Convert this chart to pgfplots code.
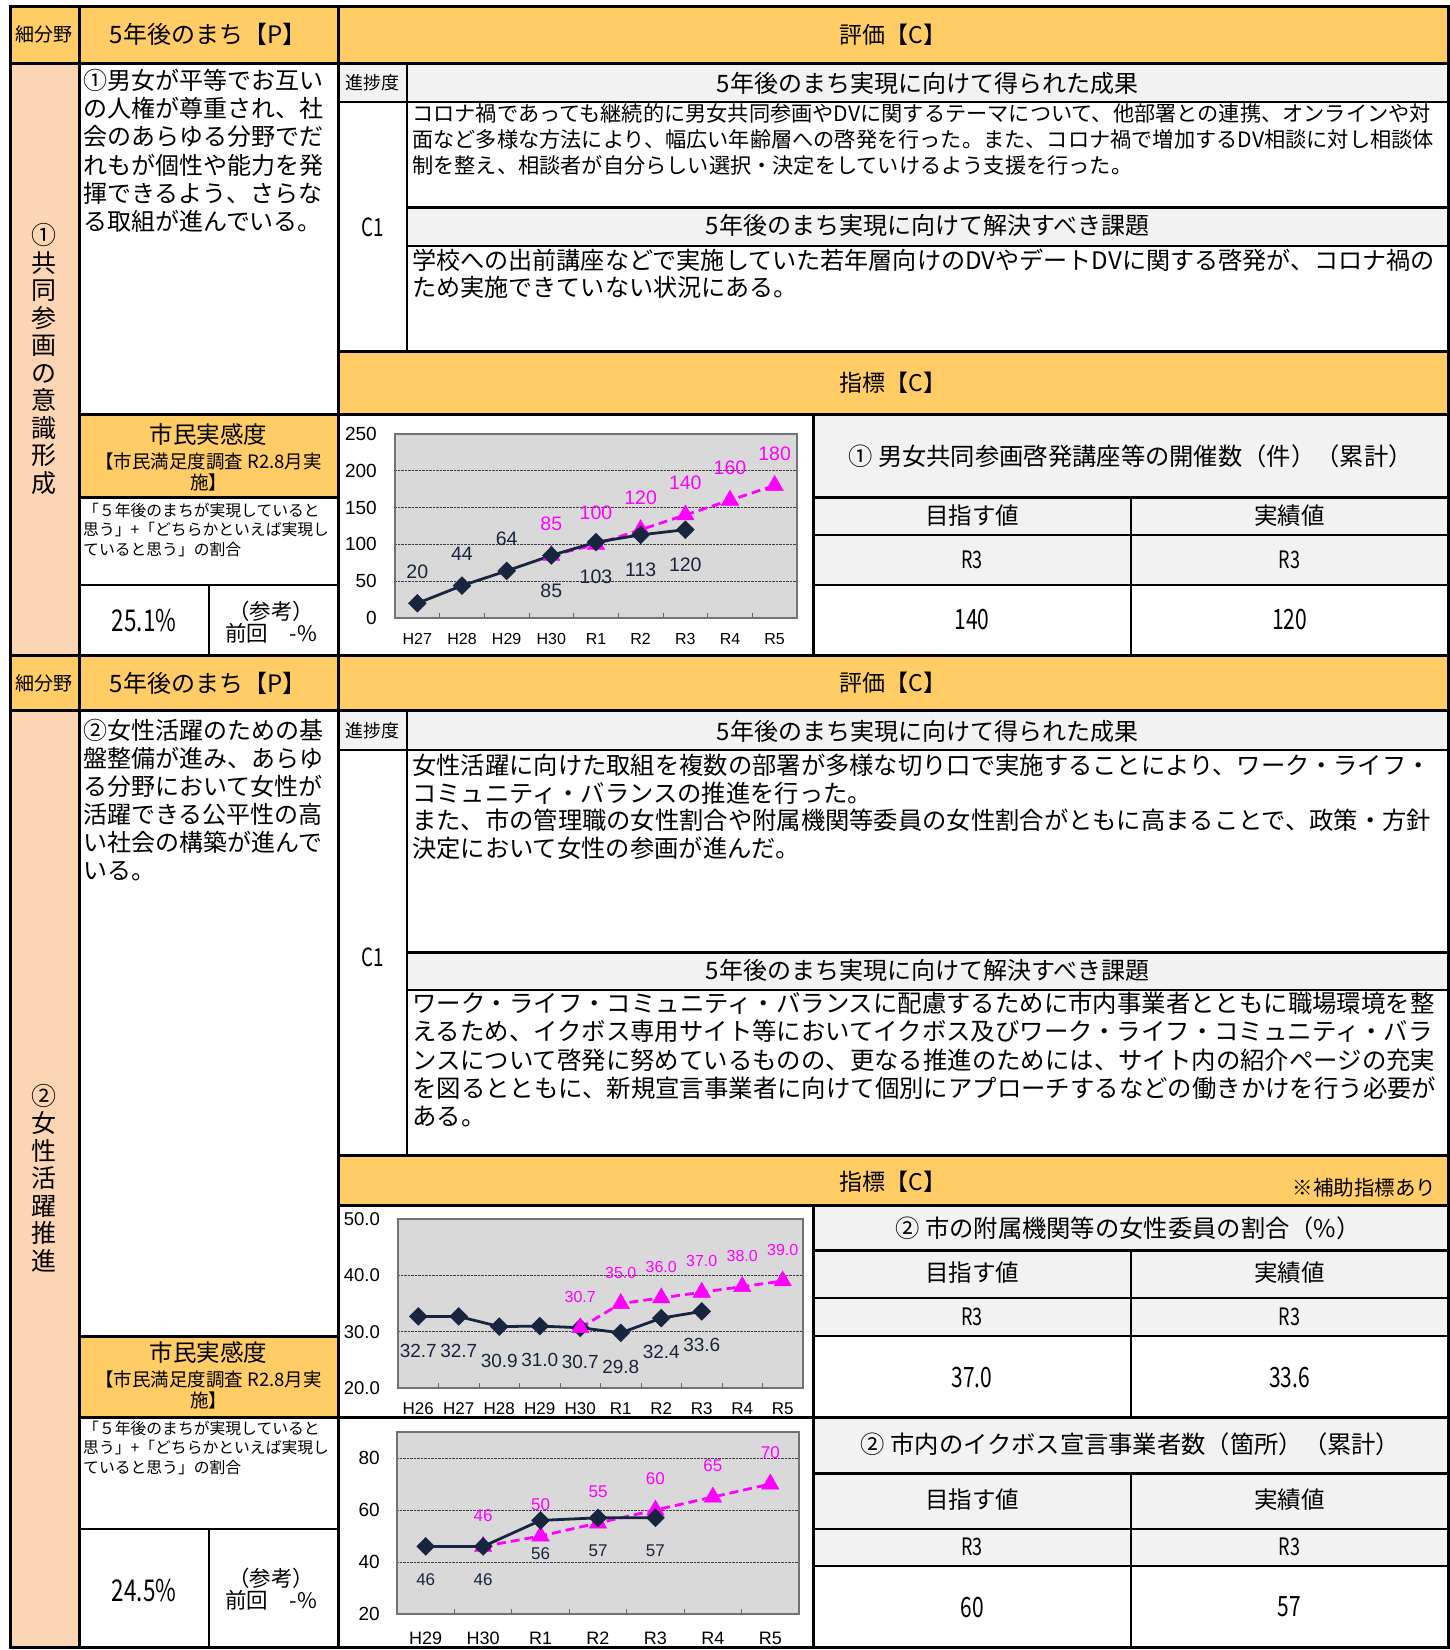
\documentclass[border=0pt]{standalone}
\usepackage{pgfplots}
\pgfplotsset{compat=1.18}
\usepackage{fontspec}
\setmainfont{Noto Sans CJK JP}
\newfontfamily\nar[FakeStretch=0.75]{Noto Sans CJK JP}
\newfontfamily\arial{Liberation Sans}

\definecolor{hdr}{RGB}{255,204,102}
\definecolor{peach}{RGB}{252,213,180}
\definecolor{cell}{RGB}{242,242,242}
\definecolor{plotbg}{RGB}{217,217,217}
\definecolor{navy}{RGB}{23,37,62}
\definecolor{pink}{RGB}{255,0,255}
\newcommand{\fs}[2]{\fontsize{#1}{#2}\selectfont}

\pgfplotsset{
  minichart/.style={
    anchor=south west, scale only axis, clip=false,
    axis background/.style={fill=plotbg},
    axis line style={draw=black!55, line width=1.8pt},
    ymajorgrids, grid style={black!75, densely dotted, line width=0.7pt},
    tick pos=left, major tick length=0pt, tick align=inside,
    extra x tick style={major tick length=5pt, tick style={black!60, line width=0.8pt}},
    extra x tick labels={},
    /pgf/number format/assume math mode=true,
    yticklabel style={anchor=east, inner sep=0pt, xshift=-18pt},
    xticklabel style={anchor=center, inner sep=0pt},
  },
  actual/.style={navy, line width=2.8pt, mark=square*, mark size=6.3pt,
    mark options={rotate=45, solid, line width=0.5pt}},
  target/.style={pink, line width=2.8pt, dash pattern=on 9pt off 5pt,
    mark=triangle*, mark size=10pt, mark options={solid, line width=0.5pt}},
}

\begin{document}
\begin{tikzpicture}[x=1pt,y=-1pt]
\useasboundingbox (0,0) rectangle (1450,1650);
\fill[white] (0,0) rectangle (1450,1650);

% cell fills, section 1
\fill[hdr] (10,6) rectangle (1448,63.5);
\fill[peach] (10,63.5) rectangle (79,655);
\fill[cell] (338.5,63.5) rectangle (1448,102);
\fill[cell] (407,207) rectangle (1448,246);
\fill[hdr] (338.5,351.5) rectangle (1448,415);
\fill[hdr] (79,414) rectangle (338.5,497);
\fill[cell] (813,415) rectangle (1448,585);
% section 2
\fill[hdr] (10,655) rectangle (1448,710);
\fill[peach] (10,710) rectangle (79,1647);
\fill[cell] (338.5,710) rectangle (1448,750);
\fill[cell] (407,952) rectangle (1448,990);
\fill[hdr] (338.5,1155.5) rectangle (1448,1205);
\fill[hdr] (79,1336) rectangle (338.5,1417);
\fill[cell] (813,1205) rectangle (1448,1336);
\fill[cell] (813,1417) rectangle (1448,1566);

% thin rules
\begin{scope}[line width=1.2pt]
\draw (338.5,102) -- (1448,102) (407,246) -- (1448,246);
\draw (813,535) -- (1448,535) (813,585) -- (1448,585);
\draw (79,585) -- (338.5,585) (209,585) -- (209,655);
\draw (338.5,750) -- (1448,750) (407,990) -- (1448,990);
\draw (813,1298) -- (1448,1298) (813,1336) -- (1448,1336);
\draw (813,1529) -- (1448,1529) (813,1566) -- (1448,1566);
\draw (79,1529) -- (338.5,1529) (209,1529) -- (209,1647);
\end{scope}
\begin{scope}[line width=2.4pt]
\draw (407,63.5) -- (407,351.5) (407,710) -- (407,1155.5);
\draw (1131,497) -- (1131,655) (1131,1250) -- (1131,1417) (1131,1473) -- (1131,1647);
\end{scope}
% thick rules
\begin{scope}[line width=3pt]
\draw (10,6) rectangle (1448,1647);
\draw (79,6) -- (79,1647) (338.5,6) -- (338.5,1647);
\draw (10,63.5) -- (1448,63.5) (10,655) -- (1448,655) (10,710) -- (1448,710);
\draw (407,207) -- (1448,207) (338.5,351.5) -- (1448,351.5) (79,414.5) -- (1448,414.5);
\draw (813,414.5) -- (813,655) (813,497) -- (1448,497) (79,497) -- (338.5,497);
\draw (407,952) -- (1448,952) (338.5,1155.5) -- (1448,1155.5) (338.5,1205) -- (1448,1205);
\draw (813,1205) -- (813,1647) (813,1250) -- (1448,1250);
\draw (79,1336) -- (338.5,1336) (79,1417) -- (1448,1417) (813,1473) -- (1448,1473);
\end{scope}

% ---- texts, section 1
\node[font=\fs{19}{19}] at (44,34.5) {細分野};
\node[font=\fs{24}{24}] at (208,34.5) {5年後のまち【P】};
\node[font=\fs{23}{23}] at (893,34.5) {評価【C】};
\node[align=center, font=\fs{25}{27.5}] at (44,359) {①\\共\\同\\参\\画\\の\\意\\識\\形\\成};
\node[anchor=north west, inner sep=0pt, align=left, font=\fs{24}{28.3}] at (83,68.7)
  {①男女が平等でお互い\\の人権が尊重され、社\\会のあらゆる分野でだ\\れもが個性や能力を発\\揮できるよう、さらな\\る取組が進んでいる。};
\node[font=\fs{23.5}{23.5}] at (208.5,435) {市民実感度};
\node[align=center, font=\fs{18.5}{20.5}] at (208.5,472) {【市民満足度調査 R2.8月実\\施】};
\node[anchor=north west, inner sep=0pt, align=left, font=\fs{15.8}{19.5}] at (83,502.6)
  {「５年後のまちが実現していると\\思う」+「どちらかといえば実現し\\ていると思う」の割合};
\node[font=\nar\fs{30}{30}] at (144,620) {25.1\%};
\node[align=center, font=\fs{21.5}{22.5}] at (271,622) {（参考）\\前回　-\%};

\node[font=\fs{18}{18}] at (372.5,83) {進捗度};
\node[font=\fs{24}{24}] at (927.5,83) {5年後のまち実現に向けて得られた成果};
\node[anchor=north west, inner sep=0pt, align=left, font=\fs{21.2}{26}] at (412,103)
  {コロナ禍であっても継続的に男女共同参画やDVに関するテーマについて、他部署との連携、オンラインや対\\面など多様な方法により、幅広い年齢層への啓発を行った。また、コロナ禍で増加するDV相談に対し相談体\\制を整え、相談者が自分らしい選択・決定をしていけるよう支援を行った。};
\node[font=\nar\fs{25}{25}] at (372.5,227) {C1};
\node[font=\fs{24}{24}] at (927.5,225) {5年後のまち実現に向けて解決すべき課題};
\node[anchor=north west, inner sep=0pt, align=left, font=\fs{24.1}{27}] at (412,248.7)
  {学校への出前講座などで実施していた若年層向けのDVやデートDVに関する啓発が、コロナ禍の\\ため実施できていない状況にある。};
\node[font=\fs{23}{23}] at (893,383) {指標【C】};
\node[font=\fs{24.3}{24.3}] at (1130.5,456) {① 男女共同参画啓発講座等の開催数（件）（累計）};
\node[font=\fs{23.5}{23.5}] at (972,516) {目指す値};
\node[font=\fs{23.5}{23.5}] at (1289.5,516) {実績値};
\node[font=\nar\fs{24}{24}] at (972,560) {R3};
\node[font=\nar\fs{24}{24}] at (1289.5,560) {R3};
\node[font=\nar\fs{28}{28}] at (972,620) {140};
\node[font=\nar\fs{28}{28}] at (1289.5,620) {120};

% ---- texts, section 2
\node[font=\fs{19}{19}] at (44,683) {細分野};
\node[font=\fs{24}{24}] at (208,683) {5年後のまち【P】};
\node[font=\fs{23}{23}] at (893,683) {評価【C】};
\node[align=center, font=\fs{25}{27.5}] at (44,1178) {②\\女\\性\\活\\躍\\推\\進};
\node[anchor=north west, inner sep=0pt, align=left, font=\fs{24}{28}] at (83,718.7)
  {②女性活躍のための基\\盤整備が進み、あらゆ\\る分野において女性が\\活躍できる公平性の高\\い社会の構築が進んで\\いる。};
\node[font=\fs{23.5}{23.5}] at (208.5,1353) {市民実感度};
\node[align=center, font=\fs{18.5}{20.5}] at (208.5,1390) {【市民満足度調査 R2.8月実\\施】};
\node[anchor=north west, inner sep=0pt, align=left, font=\fs{15.8}{19.5}] at (83,1420.6)
  {「５年後のまちが実現していると\\思う」+「どちらかといえば実現し\\ていると思う」の割合};
\node[font=\nar\fs{30}{30}] at (144,1590) {24.5\%};
\node[align=center, font=\fs{21.5}{22.5}] at (271,1589) {（参考）\\前回　-\%};

\node[font=\fs{18}{18}] at (372.5,731) {進捗度};
\node[font=\fs{24}{24}] at (927.5,731) {5年後のまち実現に向けて得られた成果};
\node[anchor=north west, inner sep=0pt, align=left, font=\fs{24.3}{27.7}] at (412,753.6)
  {女性活躍に向けた取組を複数の部署が多様な切り口で実施することにより、ワーク・ライフ・\\コミュニティ・バランスの推進を行った。\\また、市の管理職の女性割合や附属機関等委員の女性割合がともに高まることで、政策・方針\\決定において女性の参画が進んだ。};
\node[font=\nar\fs{25}{25}] at (372.5,957) {C1};
\node[font=\fs{24}{24}] at (927.5,970) {5年後のまち実現に向けて解決すべき課題};
\node[anchor=north west, inner sep=0pt, align=left, font=\fs{24.4}{28.3}] at (412,991.6)
  {ワーク・ライフ・コミュニティ・バランスに配慮するために市内事業者とともに職場環境を整\\えるため、イクボス専用サイト等においてイクボス及びワーク・ライフ・コミュニティ・バラ\\ンスについて啓発に努めているものの、更なる推進のためには、サイト内の紹介ページの充実\\を図るとともに、新規宣言事業者に向けて個別にアプローチするなどの働きかけを行う必要が\\ある。};
\node[font=\fs{23}{23}] at (893,1182) {指標【C】};
\node[anchor=east, font=\fs{20.5}{20.5}] at (1440,1188) {※補助指標あり};
\node[font=\fs{24.3}{24.3}] at (1128,1228) {② 市の附属機関等の女性委員の割合（\%）};
\node[font=\fs{23.5}{23.5}] at (972,1273) {目指す値};
\node[font=\fs{23.5}{23.5}] at (1289.5,1273) {実績値};
\node[font=\nar\fs{24}{24}] at (972,1317) {R3};
\node[font=\nar\fs{24}{24}] at (1289.5,1317) {R3};
\node[font=\nar\fs{28}{28}] at (972,1377) {37.0};
\node[font=\nar\fs{28}{28}] at (1289.5,1377) {33.6};
\node[font=\fs{24.3}{24.3}] at (1130.5,1444) {② 市内のイクボス宣言事業者数（箇所）（累計）};
\node[font=\fs{23.5}{23.5}] at (972,1500) {目指す値};
\node[font=\fs{23.5}{23.5}] at (1289.5,1500) {実績値};
\node[font=\nar\fs{24}{24}] at (972,1547) {R3};
\node[font=\nar\fs{24}{24}] at (1289.5,1547) {R3};
\node[font=\nar\fs{28}{28}] at (972,1607) {60};
\node[font=\nar\fs{28}{28}] at (1289.5,1607) {57};

% ---- chart 1: 男女共同参画啓発講座等の開催数
\begin{axis}[minichart, at={(395pt,-618pt)}, width=402pt, height=184pt,
  xmin=-0.5, xmax=8.5, ymin=0, ymax=250, ytick={0,50,...,250},
  xtick={0,...,8}, xticklabels={H27,H28,H29,H30,R1,R2,R3,R4,R5},
  extra x ticks={0.5,1.5,...,7.5},
  yticklabel style={font=\arial\fs{19}{19}},
  xticklabel style={font=\arial\fs{16}{16}, yshift=-21pt}]
\addplot[target, nodes near coords, visualization depends on={value \thisrow{o}\as\off},
  nodes near coords style={anchor=center, yshift=\off pt, font=\arial\fs{19.5}{19.5}, text=pink}]
  table[x=x, y=y] {
x y o
3 85 32
4 100 32
5 120 32
6 140 32
7 160 32
8 180 32
};
\addplot[actual, nodes near coords, visualization depends on={value \thisrow{o}\as\off},
  nodes near coords style={anchor=center, yshift=\off pt, font=\arial\fs{19.5}{19.5}, text=navy}]
  table[x=x, y=y] {
x y o
0 20 32
1 44 32
2 64 32
3 85 -35
4 103 -35
5 113 -35
6 120 -35
};
\end{axis}

% ---- chart 2: 市の附属機関等の女性委員の割合
\begin{axis}[minichart, at={(398pt,-1388pt)}, width=405pt, height=169pt,
  xmin=-0.5, xmax=9.5, ymin=20, ymax=50, ytick={20,30,40,50},
  yticklabel={\pgfmathprintnumber[fixed,zerofill,precision=1]{\tick}},
  xtick={0,...,9}, xticklabels={H26,H27,H28,H29,H30,R1,R2,R3,R4,R5},
  extra x ticks={0.5,1.5,...,8.5},
  yticklabel style={font=\arial\fs{18.5}{18.5}},
  xticklabel style={font=\arial\fs{17}{17}, yshift=-21pt}]
\addplot[actual, nodes near coords={\pgfmathprintnumber[fixed,zerofill,precision=1]{\pgfplotspointmeta}},
  visualization depends on={value \thisrow{o}\as\off},
  nodes near coords style={anchor=center, yshift=\off pt, font=\arial\fs{19}{19}, text=navy}]
  table[x=x, y=y] {
x y o
0 32.7 -34
1 32.7 -34
2 30.9 -34
3 31.0 -34
4 30.7 -34
5 29.8 -34
6 32.4 -34
7 33.6 -34
};
\addplot[target, nodes near coords={\pgfmathprintnumber[fixed,zerofill,precision=1]{\pgfplotspointmeta}},
  visualization depends on={value \thisrow{o}\as\off},
  nodes near coords style={anchor=center, yshift=\off pt, font=\arial\fs{16}{16}, text=pink}]
  table[x=x, y=y] {
x y o
4 30.7 31
5 35.0 31
6 36.0 31
7 37.0 31
8 38.0 31
9 39.0 31
};
\end{axis}

% ---- chart 3: 市内のイクボス宣言事業者数
\begin{axis}[minichart, at={(397pt,-1614pt)}, width=402pt, height=182pt,
  xmin=-0.5, xmax=6.5, ymin=20, ymax=90, ytick={20,40,60,80},
  xtick={0,...,6}, xticklabels={H29,H30,R1,R2,R3,R4,R5},
  extra x ticks={0.5,1.5,...,5.5},
  yticklabel style={font=\arial\fs{19}{19}, xshift=1pt},
  xticklabel style={font=\arial\fs{18}{18}, yshift=-24pt}]
\addplot[target, nodes near coords, visualization depends on={value \thisrow{o}\as\off},
  nodes near coords style={anchor=center, yshift=\off pt, font=\arial\fs{17}{17}, text=pink}]
  table[x=x, y=y] {
x y o
1 46 31
2 50 31
3 55 31
4 60 31
5 65 31
6 70 31
};
\addplot[actual, nodes near coords, visualization depends on={value \thisrow{o}\as\off},
  nodes near coords style={anchor=center, yshift=\off pt, font=\arial\fs{17}{17}, text=navy}]
  table[x=x, y=y] {
x y o
0 46 -33
1 46 -33
2 56 -33
3 57 -33
4 57 -33
};
\end{axis}
\end{tikzpicture}
\end{document}
